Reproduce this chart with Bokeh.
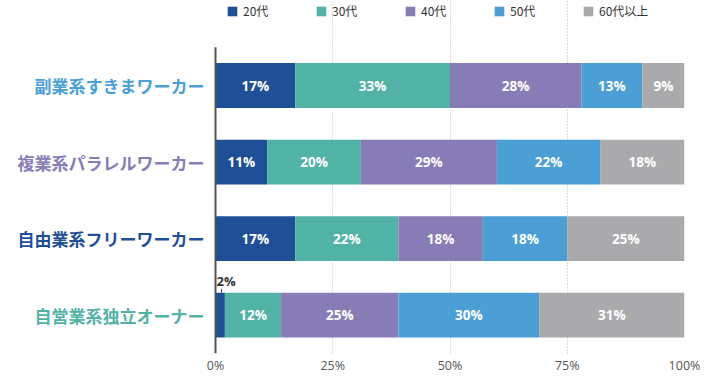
import numpy as np
from bokeh.plotting import figure
from bokeh.models import Range1d, FixedTicker, Legend, LegendItem, ColumnDataSource
from bokeh.core.properties import value
from bokeh.embed import file_html
from bokeh.resources import INLINE

categories = ["副業系すきまワーカー", "複業系パラレルワーカー", "自由業系フリーワーカー", "自営業系独立オーナー"]
age_groups = ["20代", "30代", "40代", "50代", "60代以上"]
s20 = [17, 11, 17, 2]
s30 = [33, 20, 22, 12]
s40 = [28, 29, 18, 25]
s50 = [13, 22, 18, 30]
s60 = [9, 18, 25, 31]
x_ticks = [0, 25, 50, 75, 100]
x_tick_labels = ["0%", "25%", "50%", "75%", "100%"]

colors = ["#1f4f97", "#52b2a6", "#877cb6", "#4b9fd5", "#aaaaac"]
cat_colors = ["#4b9fd5", "#877cb6", "#1f4f97", "#52b2a6"]

series = [s20, s30, s40, s50, s60]
n = len(categories)
ys = [n - 1 - i for i in range(n)]

# layout geometry (pixels)
W, H = 700, 376
frame_left_px, frame_right_px = 215, 684
frame_bottom_px = 355
row_px = 77.0
px_per_pct = (frame_right_px - frame_left_px) / 100.0
x_lo = -frame_left_px / px_per_pct
y_lo = -0.5
y_hi = y_lo + frame_bottom_px / row_px
axis_top = y_lo + 4.0

p = figure(width=W, height=H, output_backend="svg", toolbar_location=None,
           x_range=Range1d(x_lo, 100), y_range=Range1d(y_lo, y_hi),
           min_border_left=0, min_border_right=W - frame_right_px,
           min_border_top=0, min_border_bottom=H - frame_bottom_px)
p.outline_line_color = None
p.background_fill_color = "white"

# dotted grid
p.xgrid.ticker = FixedTicker(ticks=[25, 50, 75, 100])
p.xgrid.grid_line_color = "#bbbbbb"
p.xgrid.grid_line_dash = "1 2"
p.ygrid.grid_line_color = None

bar_h = 0.585
left = np.zeros(n)
items = []
lab_x, lab_y, lab_t = [], [], []
out_x, out_y, out_t = [], [], []
for k, s in enumerate(series):
    vals = np.array(s, dtype=float)
    right = left + vals
    src = ColumnDataSource(dict(y=ys, left=left.tolist(), right=right.tolist()))
    r = p.hbar(y="y", left="left", right="right", height=bar_h, source=src,
               fill_color=colors[k], line_color=None)
    items.append(LegendItem(label=age_groups[k], renderers=[r]))
    for i in range(n):
        if vals[i] >= 5:
            lab_x.append((left[i] + right[i]) / 2)
            lab_y.append(ys[i])
            lab_t.append(f"{int(vals[i])}%")
        else:
            out_x.append(left[i])
            out_y.append(ys[i] + bar_h / 2)
            out_t.append(f"{int(vals[i])}%")
    left = right

# vertical axis line at 0%
p.segment(x0=[0], y0=[y_lo], x1=[0], y1=[axis_top], line_color="#555555", line_width=2)

p.text(x=lab_x, y=lab_y, text=lab_t, text_color="white", text_align="center",
       text_baseline="middle", text_font=value("Open Sans"), text_font_style="bold",
       text_font_size="13.5px")
p.text(x=out_x, y=out_y, text=out_t, text_color="#333333", text_align="left",
       text_baseline="bottom", text_font=value("Open Sans"), text_font_style="bold",
       text_font_size="13px", x_offset=1, y_offset=-3)
tick_len = 4 / row_px
p.segment(x0=[x + 1.3 for x in out_x], y0=out_y, x1=[x + 1.3 for x in out_x],
          y1=[y + tick_len for y in out_y], line_color="#333333", line_width=1)

# category labels
p.text(x=[0] * n, y=ys, text=categories, x_offset=-11, text_align="right",
       text_baseline="middle", text_color=cat_colors,
       text_font=value("Noto Sans CJK JP"), text_font_style="bold",
       text_font_size="17px")

# axes
p.xaxis.ticker = FixedTicker(ticks=x_ticks)
p.xaxis.major_label_overrides = {t: l for t, l in zip(x_ticks, x_tick_labels)}
p.xaxis.axis_line_color = None
p.xaxis.major_tick_line_color = None
p.xaxis.minor_tick_line_color = None
p.xaxis.major_tick_out = 0
p.xaxis.major_tick_in = 0
p.xaxis.minor_tick_out = 0
p.xaxis.minor_tick_in = 0
p.xaxis.major_label_text_font = "Open Sans"
p.xaxis.major_label_text_font_size = "12.5px"
p.xaxis.major_label_text_color = "#555555"
p.xaxis.major_label_standoff = 3
p.yaxis.visible = False

legend = Legend(items=items, orientation="horizontal", location=(226, 334),
                glyph_width=12, glyph_height=12, label_height=12, label_standoff=5,
                label_width=60, spacing=12, padding=0, margin=0, border_line_color=None,
                background_fill_alpha=0, label_text_font="Noto Sans CJK JP",
                label_text_font_size="12px", label_text_color="#333333",
                label_text_baseline="middle")
p.add_layout(legend, "center")

open("out.html", "w").write(file_html(p, INLINE))
